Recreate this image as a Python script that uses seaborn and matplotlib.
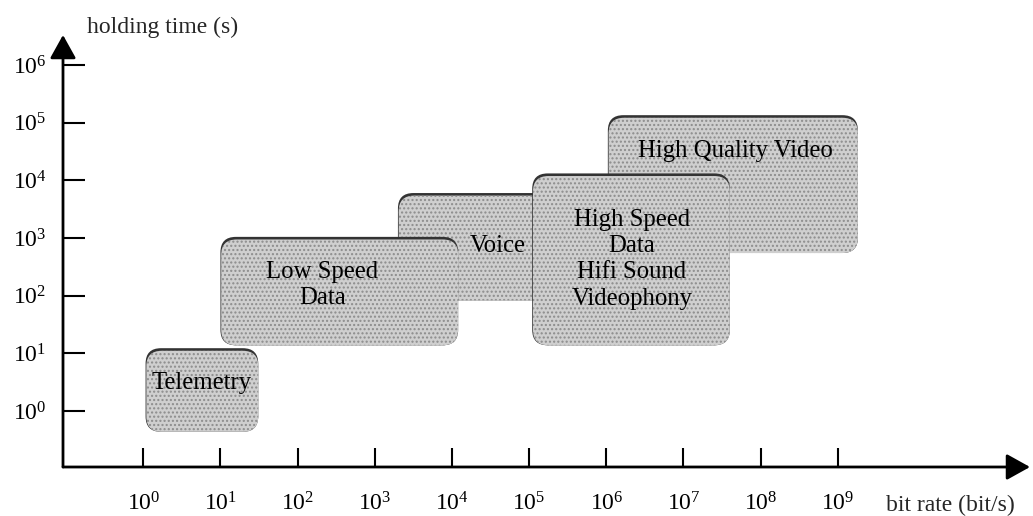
import seaborn as sns
import matplotlib
matplotlib.use("Agg")
import matplotlib.pyplot as plt
from matplotlib.patches import FancyBboxPatch

# Service classes; extents are log10 of bit rate (bit/s) and holding time (s).
services = ["High Quality Video", "Voice", "Low Speed\nData", "Telemetry",
            "High Speed\nData\nHifi Sound\nVideophony"]
rate_lo = [6.02, 3.30, 1.00, 0.03, 5.04]
rate_hi = [9.26, 5.87, 4.08, 1.49, 7.60]
time_lo = [2.74, 1.92, 1.14, -0.36, 1.14]
time_hi = [5.13, 3.78, 3.02, 1.09, 4.12]
label_x = [7.67, 4.59, 2.32, 0.76, 6.33]
label_y = [4.51, 2.86, 2.18, 0.49, 2.63]

x_decades = list(range(0, 10))
y_decades = list(range(0, 7))

sns.set_theme(style="white")
plt.rcParams["font.family"] = ["Liberation Serif", "DejaVu Serif"]
plt.rcParams["mathtext.fontset"] = "custom"
plt.rcParams["mathtext.rm"] = "Liberation Serif"
plt.rcParams["mathtext.it"] = "Liberation Serif:italic"
plt.rcParams["hatch.linewidth"] = 1.0

fig = plt.figure(figsize=(10.33, 5.16), dpi=100)
ax = fig.add_axes([63 / 1033, 49 / 516, 967 / 1033, 432 / 516])
ax.set_xlim(-1.04, 11.49)
ax.set_ylim(-0.97, 6.52)
sns.despine(ax=ax, left=True, bottom=True)

# pixel aspect so the rounded corners stay circular
aspect = (967 / 12.53) / (432 / 7.49)
shadow_h = 0.045

for name, x0, x1, y0, y1, lx, ly in zip(services, rate_lo, rate_hi,
                                        time_lo, time_hi, label_x, label_y):
    shadow = FancyBboxPatch((x0, y0), x1 - x0, y1 - y0,
                            boxstyle="round,pad=0,rounding_size=0.2",
                            mutation_aspect=aspect,
                            facecolor="#333333", edgecolor="none", lw=0)
    box = FancyBboxPatch((x0 + 0.01, y0), x1 - x0 - 0.01, y1 - y0 - shadow_h,
                         boxstyle="round,pad=0,rounding_size=0.2",
                         mutation_aspect=aspect,
                         facecolor="#cfcfcf", edgecolor="#8c8c8c", lw=0,
                         hatch="....")
    ax.add_patch(shadow)
    ax.add_patch(box)
    ax.text(lx, ly, name, ha="center", va="center", fontsize=17.8,
            linespacing=1.25, color="black")

# axes with arrow heads
arrow = dict(arrowstyle="-|>,head_length=0.72,head_width=0.4",
             mutation_scale=20, lw=2, color="black", shrinkA=0, shrinkB=0)
ax.annotate("", xy=(1, 0), xytext=(0, 0), xycoords="axes fraction",
            arrowprops=arrow)
ax.annotate("", xy=(0, 1), xytext=(0, 0), xycoords="axes fraction",
            arrowprops=arrow)

ax.set_xticks(x_decades)
ax.set_xticklabels([r"$10^{%d}$" % d for d in x_decades])
ax.set_yticks(y_decades)
ax.set_yticklabels([r"$10^{%d}$" % d for d in y_decades])
ax.tick_params(axis="x", direction="in", length=13.7, width=1.5, pad=18,
               labelsize=17, colors="black")
ax.tick_params(axis="y", direction="in", length=16, width=1.5, pad=12,
               labelsize=17, colors="black")
ax.tick_params(bottom=True, left=True)

fig.text(87 / 1033, (516 - 33) / 516, "holding time (s)", fontsize=17,
         ha="left", va="baseline")
fig.text(886 / 1033, (516 - 511) / 516, "bit rate (bit/s)", fontsize=17,
         ha="left", va="baseline")

fig.savefig("out.png", dpi=100)
plt.close(fig)
